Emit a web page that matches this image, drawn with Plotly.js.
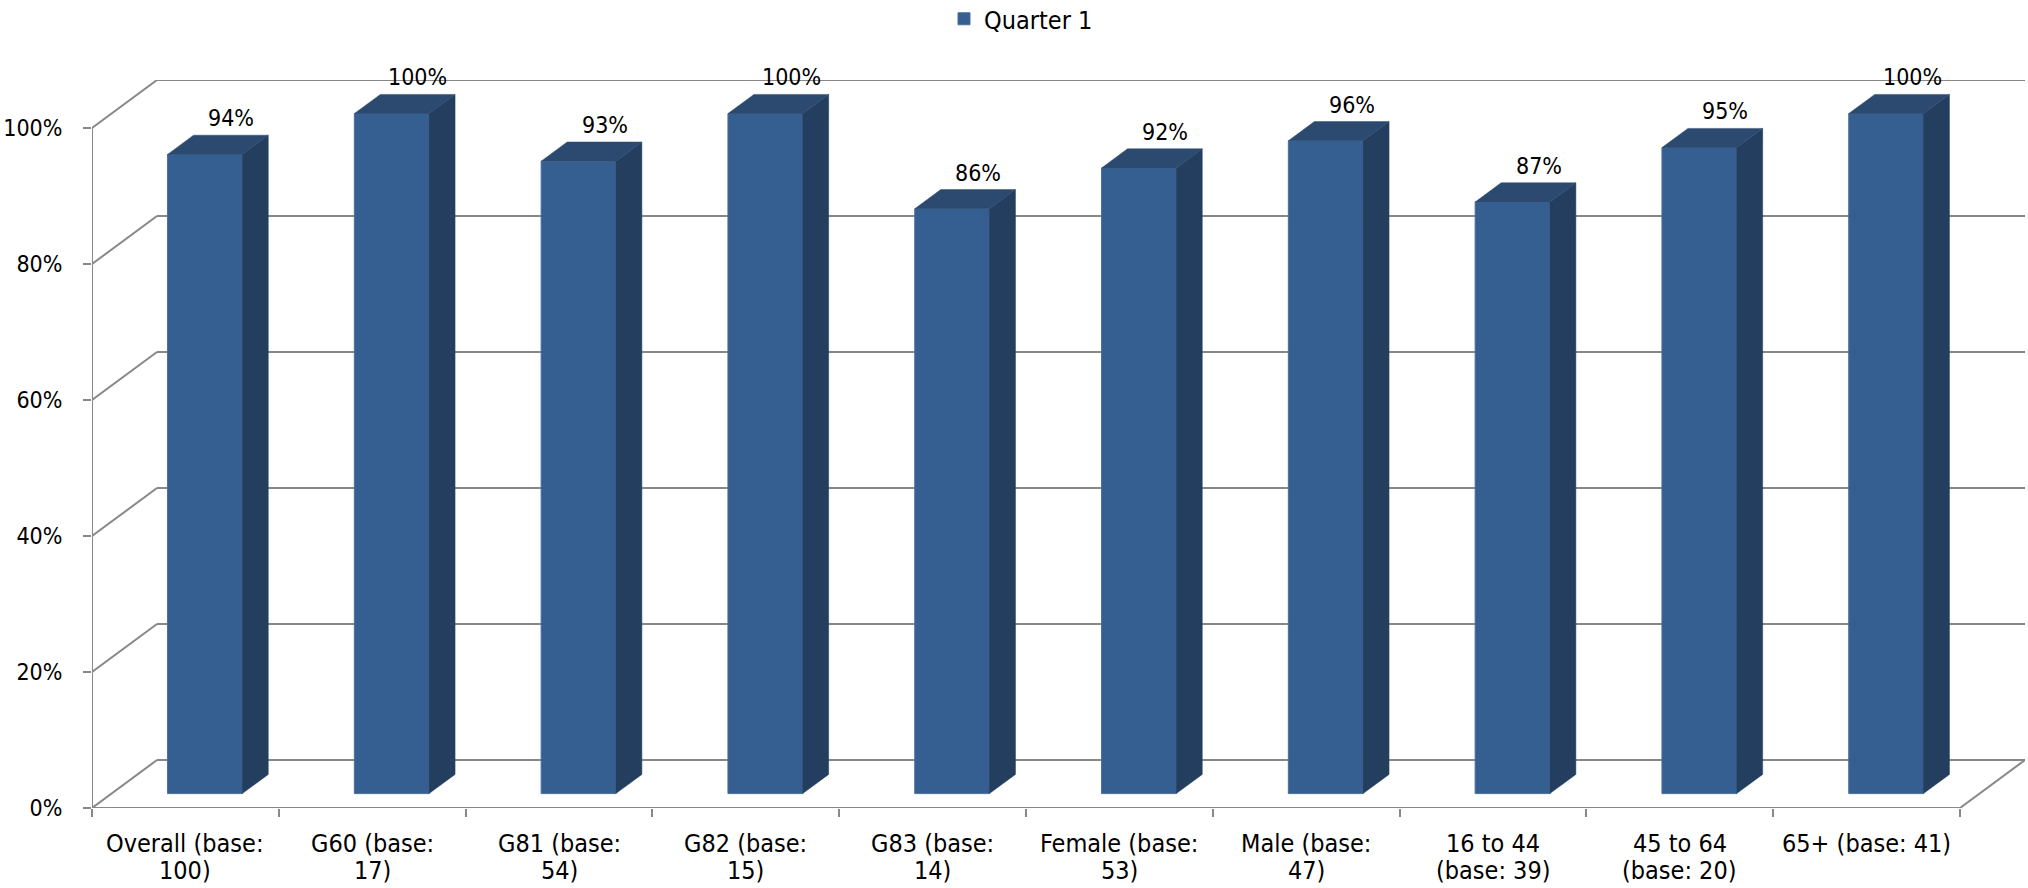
<!DOCTYPE html>
<html>
<head>
<meta charset="utf-8">
<script src="https://cdn.plot.ly/plotly-3.0.1.min.js"></script>
<style>html,body{margin:0;padding:0;background:#fff;}#chart{width:2028px;height:888px;}</style>
</head>
<body>
<div id="chart"></div>
<script>
// ---- data ----
const categories = ['Overall (base:<br>100)', 'G60 (base:<br>17)', 'G81 (base:<br>54)', 'G82 (base:<br>15)', 'G83 (base:<br>14)', 'Female (base:<br>53)', 'Male (base:<br>47)', '16 to 44<br>(base: 39)', '45 to 64<br>(base: 20)', '65+ (base: 41)'];
const values = [94, 100, 93, 100, 86, 92, 96, 87, 95, 100];
const yTickVals = [0, 20, 40, 60, 80, 100];
const seriesName = 'Quarter 1';

// ---- geometry / style ----
const W = 2028, H = 888;
const M = {l: 92, r: 3, t: 80, b: 80, autoexpand: false};
const plotW = W - M.l - M.r, plotH = H - M.t - M.b;
const DEPTH_X = 65, DEPTH_Y = 48;      // pixel offset of the back wall
const PX_PER_PCT = 6.8;                 // vertical pixels per 1%
const N = categories.length;
const catPx = (plotW - DEPTH_X) / N;
const xRange = [-0.5, -0.5 + plotW / catPx];
const yRange = [0, plotH / PX_PER_PCT];
const dxu = DEPTH_X / catPx;            // full depth in x data units
const dyu = DEPTH_Y / PX_PER_PCT;       // full depth in y data units
const F0 = 0.3, F1 = 0.7, BW = 0.4;     // bar depth placement, bar width
const FRONT = '#365F91', TOP = '#2C4A70', SIDE = '#233E5E';
const GRID = '#888888';
const FONT = '"DejaVu Sans Condensed", "DejaVu Sans", sans-serif';

const idx = values.map((v, i) => i);
const baseY = F0 * dyu;
const shiftX = F0 * dxu;

const traces = [];
traces.push({
  type: 'bar', name: seriesName,
  x: idx.map(i => i + shiftX), y: values, base: values.map(() => baseY),
  width: BW,
  marker: {color: FRONT, line: {color: '#4A6F9C', width: 1}},
  hoverinfo: 'skip', showlegend: true
});
values.forEach((v, i) => {
  const xl = i + shiftX - BW / 2, xr = i + shiftX + BW / 2;
  const ddx = BW * dxu, ddy = BW * dyu;
  const yb = baseY, yt = baseY + v;
  traces.push({type: 'scatter', mode: 'lines', fill: 'toself', fillcolor: SIDE,
    line: {width: 0.5, color: SIDE}, hoverinfo: 'skip', showlegend: false,
    x: [xr, xr + ddx, xr + ddx, xr, xr], y: [yb, yb + ddy, yt + ddy, yt, yb]});
  traces.push({type: 'scatter', mode: 'lines', fill: 'toself', fillcolor: TOP,
    line: {width: 0.5, color: TOP}, hoverinfo: 'skip', showlegend: false,
    x: [xl, xr, xr + ddx, xl + ddx, xl], y: [yt, yt, yt + ddy, yt + ddy, yt]});
});

const shapes = [];
const ln = (x0, y0, x1, y1) => ({type: 'line', xref: 'x', yref: 'y', x0, y0, x1, y1, layer: 'below', line: {color: GRID, width: 2}});
yTickVals.forEach(v => {
  shapes.push(ln(-0.5 + dxu, v + dyu, xRange[1], v + dyu));
  shapes.push(ln(-0.5, v, -0.5 + dxu, v + dyu));
});
shapes.push(ln(-0.5, 0, N - 0.5, 0));
shapes.push(ln(N - 0.5, 0, N - 0.5 + dxu, dyu));
shapes.push(ln(-0.5, 0, -0.5, yTickVals[yTickVals.length - 1]));

const annotations = [];
values.forEach((v, i) => {
  annotations.push({xref: 'x', yref: 'y', x: i + F1 * dxu, y: v + F1 * dyu,
    text: v + '%', showarrow: false, yanchor: 'middle', xanchor: 'center', yshift: 17,
    font: {family: FONT, size: 23, color: '#000'}});
});
categories.forEach((c, i) => {
  c.split('<br>').forEach((line, j) => {
    annotations.push({xref: 'x', yref: 'y', x: i, y: 0, text: line, showarrow: false,
      yanchor: 'top', xanchor: 'center', yshift: -19 - 27.3 * j,
      font: {family: FONT, size: 25, color: '#000'}});
  });
});

const layout = {
  width: W, height: H, margin: M,
  paper_bgcolor: '#fff', plot_bgcolor: 'rgba(0,0,0,0)',
  font: {family: FONT, size: 23, color: '#000'},
  showlegend: true,
  legend: {orientation: 'h', x: (944 - M.l) / plotW, xanchor: 'left', y: (H - M.b - 19) / plotH, yanchor: 'middle',
    font: {family: FONT, size: 25, color: '#000'}},
  xaxis: {range: xRange, showgrid: false, zeroline: false, showline: false, automargin: false,
    tickvals: Array.from({length: N + 1}, (_, k) => k - 0.5), ticks: 'outside', ticklen: 8, tickwidth: 2,
    tickcolor: GRID, showticklabels: false, fixedrange: true},
  yaxis: {range: yRange, showgrid: false, zeroline: false, showline: false, automargin: false,
    tickvals: yTickVals, ticktext: yTickVals.map(v => v + '%'), ticks: 'outside', ticklen: 8, tickwidth: 2,
    tickcolor: GRID, ticklabelstandoff: 16, tickfont: {family: FONT, size: 23, color: '#000'}, fixedrange: true},
  bargap: 0, shapes, annotations
};

Plotly.newPlot('chart', traces, layout, {displayModeBar: false, staticPlot: true});
</script>
</body>
</html>
